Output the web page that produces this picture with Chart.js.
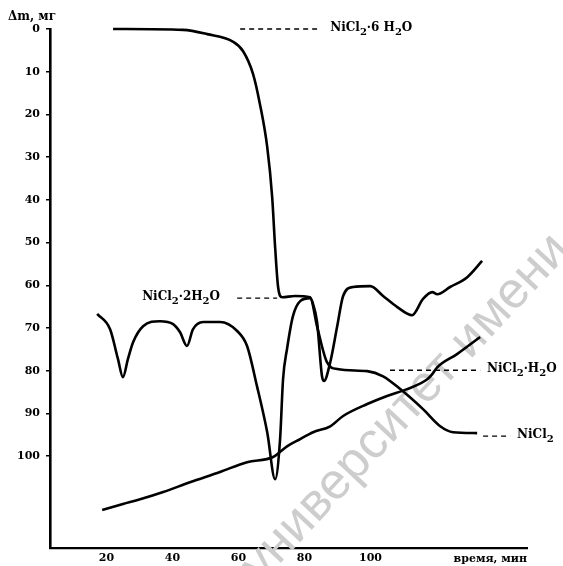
<!DOCTYPE html>
<html><head><meta charset="utf-8">
<script src="https://cdn.jsdelivr.net/npm/chart.js@4/dist/chart.umd.min.js"></script>
<style>html,body{margin:0;padding:0;background:#fff;}#wrap{width:563px;height:566px;position:relative;}</style>
</head><body><div id="wrap"><canvas id="c"></canvas></div>
<script>
// ---- data ----
const xTickValues = [20, 40, 60, 80, 100];
const yTickValues = [0, 10, 20, 30, 40, 50, 60, 70, 80, 90, 100];
const xTitle = 'время, мин';
const yTitle = 'Δm, мг';

// TG curve: mass loss, mg
const tgTime = [22.0, 43.2, 50.5, 58.4, 61.4, 64.4, 66.5, 68.7, 70.2, 71.1, 72.0, 73.2, 77.1, 81.7, 83.8, 86.8, 89.9, 99.0, 103.8, 109.0, 115.9, 121.1, 125.0, 132.3];
const tgMass = [0.0, 0.2, 1.2, 3.0, 5.2, 10.5, 17.6, 27.6, 39.3, 51.1, 60.4, 62.8, 62.5, 62.8, 69.6, 78.0, 79.6, 80.1, 81.3, 84.3, 89.0, 93.0, 94.4, 94.6];

// DTA curve (plotted on the same scale)
const dtaTime = [17.2, 21.1, 23.5, 25.0, 26.5, 28.1, 31.1, 36.2, 40.2, 42.3, 44.4, 46.2, 49.3, 54.4, 59.6, 62.6, 65.6, 68.7, 71.1, 72.6, 73.5, 74.7, 76.5, 78.7, 81.7, 82.6, 83.8, 85.3, 85.9, 87.8, 89.9, 91.7, 94.7, 99.9, 103.8, 108.1, 112.6, 115.9, 118.7, 120.2, 124.1, 129.3, 133.8];
const dtaSignal = [66.7, 70.3, 77.3, 81.5, 77.3, 73.3, 69.6, 68.4, 69.1, 71.0, 74.2, 70.3, 68.6, 68.6, 70.7, 74.2, 83.6, 94.4, 105.4, 96.0, 82.0, 74.9, 67.2, 63.7, 63.0, 64.4, 68.6, 81.3, 82.4, 78.0, 69.6, 62.5, 60.4, 60.2, 62.5, 65.1, 67.0, 63.2, 61.6, 62.1, 60.4, 58.1, 54.3];

// Temperature curve (plotted on the same scale)
const tempTime = [18.7, 25.0, 30.2, 37.2, 45.3, 54.4, 62.6, 70.5, 74.7, 78.7, 82.6, 87.8, 91.7, 99.0, 105.0, 111.1, 117.2, 118.7, 120.2, 126.2, 133.2];
const tempSignal = [112.6, 111.2, 110.1, 108.4, 106.1, 103.7, 101.4, 100.2, 97.7, 96.0, 94.4, 93.0, 90.6, 87.8, 85.9, 84.3, 82.0, 80.8, 79.2, 76.1, 72.1];

// Phase labels on the TG curve
const phaseNames = ['NiCl₂·6 H₂O', 'NiCl₂·2H₂O', 'NiCl₂·H₂O', 'NiCl₂'];
const phaseLevels = [0.0, 63.0, 79.9, 95.3];
const phaseDashFrom = [60.5, 59.6, 105.9, 134.1];
const phaseDashTo = [83.8, 71.7, 133.2, 142.3];
const phaseLabelAt = [87.8, 54.4, 135.3, 144.4];
const phaseLabelSide = ['right', 'left', 'right', 'right'];

const watermarkText = 'университет имени';

// ---- build ----
const pts = (xs, ys) => xs.map((x, i) => ({ x: x, y: ys[i] }));
const curveStyle = { borderColor: '#000', borderWidth: 2.6, pointRadius: 0, fill: false, cubicInterpolationMode: 'monotone', clip: false };
const datasets = [
  Object.assign({ label: 'TG', data: pts(tgTime, tgMass) }, curveStyle),
  Object.assign({ label: 'DTA', data: pts(dtaTime, dtaSignal) }, curveStyle),
  Object.assign({ label: 'T', data: pts(tempTime, tempSignal) }, curveStyle)
];
phaseNames.forEach((n, i) => {
  datasets.push({ label: n + ' level', data: [{ x: phaseDashFrom[i], y: phaseLevels[i] }, { x: phaseDashTo[i], y: phaseLevels[i] }],
    borderColor: '#000', borderWidth: 1.4, borderDash: [5, 4], pointRadius: 0, fill: false, clip: false });
});

const FONT = '"DejaVu Serif", "Liberation Serif", serif';

function drawChem(ctx, text, x, y, side, size) {
  const parts = [];
  for (const ch of text) {
    const sub = ch === '₂';
    const t = sub ? '2' : ch;
    if (parts.length && parts[parts.length - 1].sub === sub) parts[parts.length - 1].t += t;
    else parts.push({ t: t, sub: sub });
  }
  const fN = 'bold ' + size + 'px ' + FONT, fS = 'bold ' + Math.round(size * 0.85) + 'px ' + FONT;
  let w = 0;
  parts.forEach(p => { ctx.font = p.sub ? fS : fN; p.w = ctx.measureText(p.t).width; w += p.w; });
  let cx = side === 'left' ? x - w : x;
  ctx.textAlign = 'left';
  ctx.textBaseline = 'middle';
  parts.forEach(p => {
    ctx.font = p.sub ? fS : fN;
    ctx.fillText(p.t, cx, p.sub ? y + size * 0.38 : y);
    cx += p.w;
  });
}

const decorPlugin = {
  id: 'decor',
  beforeDatasetsDraw(chart) {
    const ctx = chart.ctx;
    ctx.save();
    ctx.translate(406, 408);
    ctx.rotate(-47 * Math.PI / 180);
    ctx.font = '51px "Liberation Sans", Arial, sans-serif';
    ctx.fillStyle = '#cdcdcd';
    ctx.textAlign = 'center';
    ctx.textBaseline = 'middle';
    ctx.fillText(watermarkText, 0, 0);
    ctx.restore();
  },
  afterDraw(chart) {
    const ctx = chart.ctx, xs = chart.scales.x, ys = chart.scales.y;
    ctx.save();
    ctx.fillStyle = '#000';
    phaseNames.forEach((n, i) => {
      const x = xs.getPixelForValue(phaseLabelAt[i]);
      const y = ys.getPixelForValue(phaseLevels[i]);
      drawChem(ctx, n, x, y - 1, phaseLabelSide[i], 12);
    });
    ctx.font = 'bold 12px ' + FONT;
    ctx.textBaseline = 'middle';
    ctx.textAlign = 'left';
    ctx.fillText(yTitle, 8, 17);
    ctx.font = 'bold 11px ' + FONT;
    ctx.textAlign = 'right';
    ctx.fillText(xTitle, chart.chartArea.right, 559);
    ctx.restore();
  }
};

new Chart(document.getElementById('c'), {
  type: 'line',
  data: { datasets: datasets },
  plugins: [decorPlugin],
  options: {
    responsive: true, maintainAspectRatio: false, animation: false, devicePixelRatio: 1,
    layout: { padding: { top: 29, right: 36, left: 0, bottom: 0 } },
    plugins: { legend: { display: false }, tooltip: { enabled: false } },
    scales: {
      x: {
        type: 'linear', min: 2.9, max: 147.4,
        afterBuildTicks: s => { s.ticks = xTickValues.map(v => ({ value: v })); },
        afterFit: s => { s.height = 18; },
        grid: { drawOnChartArea: false, drawTicks: true, tickLength: 3, color: 'rgba(0,0,0,0)' },
        border: { display: true, color: '#000', width: 2.2 },
        ticks: { autoSkip: false, maxRotation: 0, padding: 1, color: '#000', font: { family: FONT, size: 11, weight: 'bold' } }
      },
      y: {
        type: 'linear', reverse: true, min: 0, max: 121.5,
        afterBuildTicks: s => { s.ticks = yTickValues.map(v => ({ value: v })); },
        afterFit: s => { s.width = 50; },
        grid: { drawOnChartArea: false, drawTicks: true, tickLength: 4, color: '#000', lineWidth: 1.5 },
        border: { display: true, color: '#000', width: 2.6 },
        ticks: { padding: 6, color: '#000', font: { family: FONT, size: 11, weight: 'bold' } }
      }
    }
  }
});
</script>
</body></html>
